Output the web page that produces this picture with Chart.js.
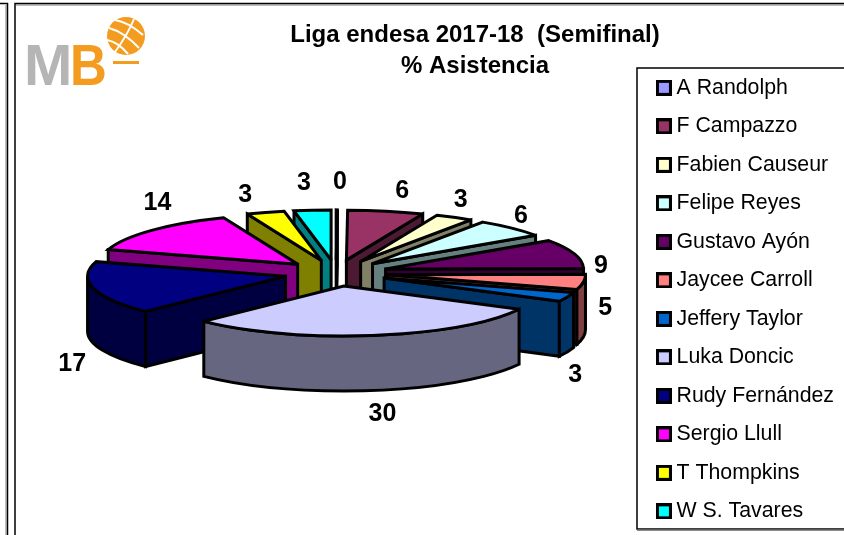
<!DOCTYPE html>
<html>
<head>
<meta charset="utf-8">
<style>
html, body { margin: 0; padding: 0; background: #fff; }
#wrap { position: relative; width: 844px; height: 535px; }
</style>
<script src="https://cdn.jsdelivr.net/npm/chart.js@4"></script>
</head>
<body>
<div id="wrap"><canvas id="chart" width="844" height="535"></canvas></div>
<script>
const players = ['A Randolph', 'F Campazzo', 'Fabien Causeur', 'Felipe Reyes', 'Gustavo Ayón', 'Jaycee Carroll', 'Jeffery Taylor', 'Luka Doncic', 'Rudy Fernández', 'Sergio Llull', 'T Thompkins', 'W S. Tavares'];
const asistencia = [0.1, 6.2, 3.1, 6.0, 9.4, 4.9, 3.0, 29.8, 17.2, 14.2, 3.1, 3.0];
const topColors = ['#9999FF', '#993366', '#FFFFCC', '#CCFFFF', '#660066', '#FF8080', '#0066CC', '#CCCCFF', '#000080', '#FF00FF', '#FFFF00', '#00FFFF'];
const sideColors = ['#4D4D80', '#4D1A33', '#808066', '#668080', '#330033', '#804040', '#003366', '#666680', '#000040', '#800080', '#808000', '#008080'];
const titleLines = ['Liga endesa 2017-18  (Semifinal)', '% Asistencia'];
// label shift from the default spot around the pie
const labelNudge = [[3, -6], [11, 2], [-6, 2], [-9, 4], [2, 19], [-4, 15], [-16, 49], [5, 3], [4, 57], [25, -12], [-13, 4], [-6, -5]];

const pieCx = 336, pieCy = 273, squash = 0.2525, depth = 55;
const fontName = '"Liberation Sans", Arial, sans-serif';

const swatches = topColors.map(c => {
  const cv = document.createElement('canvas');
  cv.width = 16;
  cv.height = 16;
  const g = cv.getContext('2d');
  g.fillStyle = '#000';
  g.fillRect(0, 0, 16, 16);
  g.fillStyle = c;
  g.fillRect(3, 3, 10, 10);
  return cv;
});

function wall(ctx, s, ang) {
  const ex = s.x + Math.cos(ang) * s.r, ey = s.y + Math.sin(ang) * s.r * squash;
  ctx.beginPath();
  ctx.moveTo(s.x, s.y);
  ctx.lineTo(ex, ey);
  ctx.lineTo(ex, ey + depth);
  ctx.lineTo(s.x, s.y + depth);
  ctx.closePath();
  ctx.fill();
  ctx.stroke();
}

const pie3d = {
  id: 'pie3d',
  beforeDatasetsDraw(chart) {
    const ctx = chart.ctx;
    const arcs = chart.getDatasetMeta(0).data.map((arc, i) => {
      const p = arc.getProps(['startAngle', 'endAngle', 'outerRadius'], true);
      const mid = (p.startAngle + p.endAngle) / 2;
      const off = arc.options.offset / 4;
      return { i, mid, r: p.outerRadius, start: p.startAngle, end: p.endAngle,
        x: pieCx + Math.cos(mid) * off, y: pieCy + Math.sin(mid) * off * squash };
    });
    chart.$arcs = arcs;
    ctx.save();
    ctx.lineWidth = 3;
    ctx.lineJoin = 'miter';
    ctx.miterLimit = 3;
    ctx.strokeStyle = '#000';
    // back slices first
    arcs.slice().sort((a, b) => a.y - b.y).forEach(s => {
      const ry = s.r * squash;
      ctx.fillStyle = sideColors[s.i];
      // only the cut faces turned to the viewer
      if (Math.cos(s.start) < 0) wall(ctx, s, s.start);
      if (Math.cos(s.end) > 0) wall(ctx, s, s.end);
      const from = Math.max(s.start, 0), to = Math.min(s.end, Math.PI);
      if (to > from) {
        ctx.beginPath();
        ctx.ellipse(s.x, s.y, s.r, ry, 0, from, to, false);
        ctx.ellipse(s.x, s.y + depth, s.r, ry, 0, to, from, true);
        ctx.closePath();
        ctx.fill();
        ctx.stroke();
      }
      ctx.fillStyle = topColors[s.i];
      ctx.beginPath();
      ctx.moveTo(s.x, s.y);
      ctx.ellipse(s.x, s.y, s.r, ry, 0, s.start, s.end, false);
      ctx.closePath();
      ctx.fill();
      ctx.stroke();
    });
    ctx.restore();
    return false;
  },
  afterDraw(chart) {
    const ctx = chart.ctx;
    ctx.save();
    ctx.fillStyle = '#000';
    ctx.font = 'bold 25px ' + fontName;
    ctx.textAlign = 'center';
    ctx.textBaseline = 'middle';
    chart.$arcs.forEach(s => {
      const c = Math.cos(s.mid), n = Math.sin(s.mid);
      const lx = s.x + c * (s.r + 26) + labelNudge[s.i][0];
      const ly = s.y + n * (s.r * squash + 22) + (n > 0 ? depth * n : 0) + labelNudge[s.i][1];
      ctx.fillText(String(Math.round(asistencia[s.i])), lx, ly);
    });
    ctx.restore();
  }
};

const frame = {
  id: 'frame',
  beforeDraw(chart) {
    const ctx = chart.ctx;
    ctx.save();
    ctx.strokeStyle = '#000';
    ctx.lineWidth = 1.5;
    ctx.strokeRect(-5, 3.5, 12.5, 540);
    ctx.strokeRect(15, 3.5, 840, 540);
    ctx.strokeStyle = '#777';
    ctx.lineWidth = 1;
    ctx.beginPath();
    ctx.moveTo(16, 5);
    ctx.lineTo(844, 5);
    ctx.moveTo(6, 5);
    ctx.lineTo(6, 535);
    ctx.stroke();
    ctx.fillStyle = '#fff';
    ctx.fillRect(637, 68, 220, 462);
    ctx.strokeStyle = '#000';
    ctx.lineWidth = 1.5;
    ctx.strokeRect(637, 68, 220, 461);
    ctx.strokeStyle = '#666';
    ctx.lineWidth = 1.5;
    ctx.beginPath();
    ctx.moveTo(637, 530);
    ctx.lineTo(844, 530);
    ctx.stroke();
    ctx.restore();

    // logo
    ctx.save();
    ctx.font = 'bold 58px ' + fontName;
    ctx.textBaseline = 'alphabetic';
    ctx.fillStyle = '#B5B5B5';
    ctx.fillText('M', 24, 85);
    ctx.fillStyle = '#F39C1F';
    ctx.save();
    ctx.translate(70, 85);
    ctx.scale(0.88, 1);
    ctx.fillText('B', 0, 0);
    ctx.restore();
    ctx.beginPath();
    ctx.arc(126, 36, 19, 0, Math.PI * 2);
    ctx.fill();
    ctx.fillRect(113, 61, 26, 3);
    ctx.strokeStyle = '#fff';
    ctx.lineWidth = 2;
    ctx.beginPath();
    ctx.moveTo(115, 20);
    ctx.quadraticCurveTo(128, 22, 143, 35);
    ctx.moveTo(109, 28);
    ctx.quadraticCurveTo(124, 32, 139, 48);
    ctx.moveTo(107, 40);
    ctx.quadraticCurveTo(118, 42, 128, 54);
    ctx.moveTo(134, 19);
    ctx.quadraticCurveTo(128, 34, 115, 52);
    ctx.stroke();
    ctx.restore();
  },
  afterLayout(chart) {
    chart.titleBlock.left = 90;
    chart.titleBlock.right = 860;
    chart.legend.top = 60;
    chart.legend.bottom = 600;
  }
};

new Chart(document.getElementById('chart').getContext('2d'), {
  type: 'pie',
  data: {
    labels: players,
    datasets: [{
      data: asistencia,
      backgroundColor: topColors,
      borderColor: '#000',
      borderWidth: 3,
      offset: 208
    }]
  },
  options: {
    responsive: false,
    animation: false,
    radius: 198,
    layout: { padding: { top: 0, right: 0, left: 0, bottom: 0 } },
    plugins: {
      tooltip: { enabled: false },
      title: {
        display: true,
        text: titleLines,
        color: '#000',
        font: { family: fontName, size: 24, weight: 'bold', lineHeight: 1.3 },
        padding: { top: 20, bottom: 12 }
      },
      legend: {
        position: 'right',
        align: 'start',
        labels: {
          color: '#000',
          font: { family: fontName, size: 21.3 },
          usePointStyle: true,
          pointStyleWidth: 4,
          padding: 17.2,
          generateLabels(chart) {
            return players.map((name, i) => ({
              text: name,
              fillStyle: topColors[i],
              strokeStyle: '#000',
              lineWidth: 0,
              pointStyle: swatches[i],
              fontColor: '#000',
              index: i
            }));
          }
        }
      }
    }
  },
  plugins: [frame, pie3d]
});
</script>
</body>
</html>
